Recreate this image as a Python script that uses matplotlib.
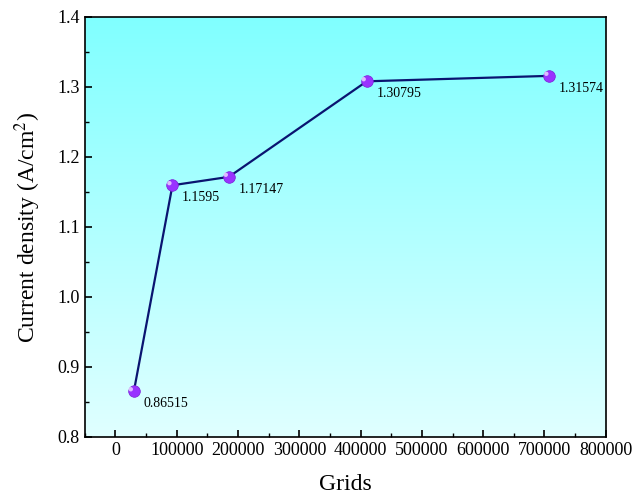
import numpy as np
import matplotlib.pyplot as plt
from matplotlib.colors import LinearSegmentedColormap

plt.rcParams["font.family"] = ["Liberation Serif", "DejaVu Serif"]
plt.rcParams["mathtext.fontset"] = "stix"

grids = [30000, 93000, 185000, 410000, 708000]
density = [0.86515, 1.1595, 1.17147, 1.30795, 1.31574]
labels = ["0.86515", "1.1595", "1.17147", "1.30795", "1.31574"]

fig = plt.figure(figsize=(6.33, 4.96), dpi=100)
ax = fig.add_axes([0.134, 0.119, 0.823, 0.847])

# gradient background
cmap = LinearSegmentedColormap.from_list("bg", ["#e0ffff", "#80ffff"])
grad = np.linspace(0, 1, 256).reshape(-1, 1)
ax.imshow(grad, cmap=cmap, aspect="auto", origin="lower",
          extent=[-50000, 800000, 0.8, 1.4], zorder=0)

ax.plot(grids, density, color="#0a1470", linewidth=1.6, zorder=2)
ax.scatter(grids, density, s=70, color="#9933ff", edgecolors="#7a1fd6",
           linewidths=0.5, zorder=3)
ax.scatter([g - 5000 for g in grids], [d + 0.003 for d in density], s=10,
           color="#e6ccff", edgecolors="none", zorder=4, alpha=0.9)

for x, y, t in zip(grids, density, labels):
    ax.annotate(t, (x, y), xytext=(7, -9), textcoords="offset points",
                fontsize=10, ha="left", va="center")

ax.set_xlim(-50000, 800000)
ax.set_ylim(0.8, 1.4)
ax.set_xticks(np.arange(0, 800001, 100000))
ax.set_xticks(np.arange(-50000, 800001, 50000), minor=True)
ax.set_yticks(np.arange(0.8, 1.41, 0.1))
ax.set_yticks(np.arange(0.8, 1.41, 0.05), minor=True)
ax.tick_params(which="both", direction="in", top=False, right=False, labelsize=13)
ax.tick_params(which="major", length=5, width=1.2)
ax.tick_params(which="minor", length=3, width=1.0)
for s in ax.spines.values():
    s.set_linewidth(1.2)

ax.set_xlabel("Grids", fontsize=17, labelpad=11)
ax.set_ylabel("Current density (A/cm$^2$)", fontsize=17, labelpad=10)

fig.savefig("out.png", dpi=100)
